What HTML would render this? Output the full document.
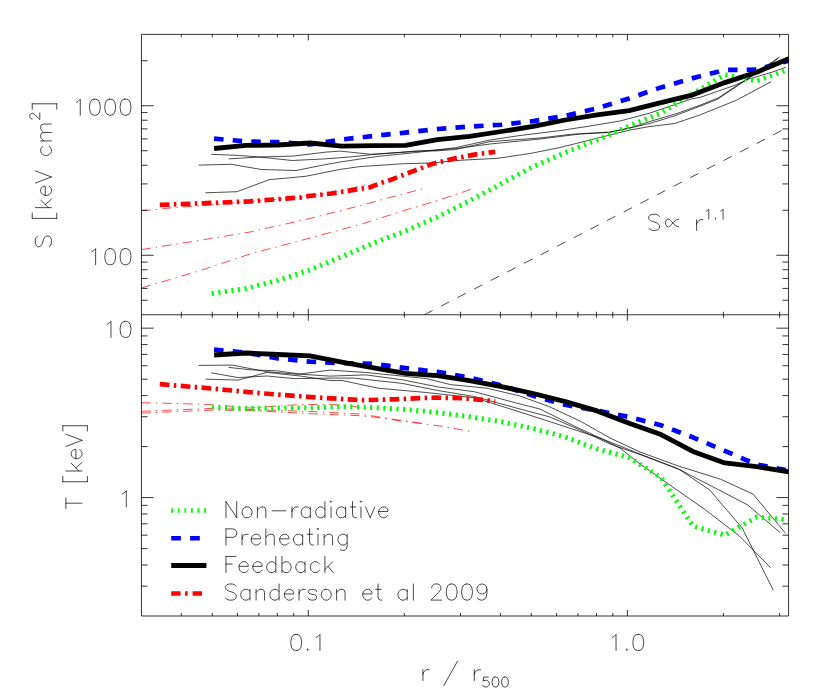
<!DOCTYPE html>
<html><head><meta charset="utf-8"><title>Entropy and temperature profiles</title>
<style>
html,body{margin:0;padding:0;background:#fff;}
body{width:830px;height:700px;overflow:hidden;font-family:"Liberation Sans",sans-serif;}
svg{display:block}
</style></head><body>
<svg width="830" height="700" viewBox="0 0 830 700">
<rect width="830" height="700" fill="#fff"/>
<defs>
<clipPath id="c1"><rect x="141.45" y="34.4" width="647.8999999999999" height="280.35"/></clipPath>
<clipPath id="c2"><rect x="141.45" y="314.75" width="647.8999999999999" height="301.25"/></clipPath>
</defs>
<g clip-path="url(#c1)">
<polyline points="211.2,154.3 238.2,155.4 259.4,157.0 292.2,160.5 325.0,158.9 350.0,157.0 370.8,154.7 417.1,150.9 436.4,150.9 455.7,149.5 490.0,141.6 540.0,138.0 570.0,134.4 610.0,132.0 630.0,128.0 650.0,121.5 678.6,112.9 700.0,105.2 718.1,98.0 748.2,78.1 772.3,61.9 779.5,57.0" fill="none" stroke="#000" stroke-width="0.7" />
<polyline points="228.6,158.9 259.4,157.0 294.0,156.0 325.0,152.2 340.0,151.1 370.8,154.3 417.1,151.4 455.7,148.6 490.0,144.0 540.0,139.0 580.0,134.0 610.0,132.4 650.0,123.4 674.7,115.8 700.0,106.2 717.1,99.4 749.9,77.6 771.0,63.5 778.0,58.5" fill="none" stroke="#000" stroke-width="0.7" />
<polyline points="198.7,165.1 231.4,164.3 261.3,169.5 296.0,170.5 325.0,164.7 340.0,162.0 378.6,156.3 417.1,152.4 455.7,147.6 490.0,140.0 520.0,135.5 560.0,130.6 590.0,126.0 620.0,121.0 650.0,113.0 692.0,98.8 700.0,97.4 736.1,84.8 748.2,79.3 772.3,72.1 785.8,67.3" fill="none" stroke="#000" stroke-width="0.7" />
<polyline points="205.4,192.8 237.2,191.7 269.0,179.7 305.7,176.3 340.0,169.4 360.0,166.6 403.4,163.7 432.3,163.0 455.7,160.5 497.8,158.3 530.0,153.5 560.0,147.5 570.0,145.0 610.0,135.0 630.0,130.0 650.0,126.5 674.7,123.5 700.0,114.9 736.1,100.4 771.1,81.7" fill="none" stroke="#000" stroke-width="0.7" />
<polyline points="141.4,210.7 155.8,209.6 170.8,207.8 200.0,205.7 250.0,201.6 300.0,197.2 331.3,192.6 355.4,187.3 366.0,185.4" fill="none" stroke="#f00" stroke-width="0.7" stroke-dasharray="9.4 5 1.5 5" />
<polyline points="141.4,249.6 197.8,240.7 250.0,232.0 307.8,219.0 360.0,205.7 388.9,197.7 422.2,189.0" fill="none" stroke="#f00" stroke-width="0.7" stroke-dasharray="9.4 5 1.5 5" />
<polyline points="141.4,287.9 197.8,271.3 250.0,254.0 307.8,238.6 362.9,223.7 403.4,210.7 439.5,199.9 471.3,189.3" fill="none" stroke="#f00" stroke-width="0.7" stroke-dasharray="9.4 5 1.5 5" />
<polyline points="424.2,314.8 782.2,130.3" fill="none" stroke="#000" stroke-width="0.7" stroke-dasharray="9.4 9.3" />
<polyline points="211.8,293.5 246.0,288.6 277.9,280.4 309.9,270.0 341.8,256.6 373.7,243.0 405.6,231.0 437.5,217.0 469.5,200.9 501.4,183.6 533.3,166.6 565.2,152.5 597.1,140.0 629.1,126.1 661.0,113.0 692.9,93.7 724.8,74.6 756.7,81.0 788.7,69.5" fill="none" stroke="#0f0" stroke-width="5.0" stroke-dasharray="2.1 4.5" />
<polyline points="214.1,138.7 246.0,141.4 277.9,142.2 309.9,144.5 341.8,139.5 373.7,136.0 405.6,132.6 437.5,129.0 469.5,126.6 501.4,124.7 533.3,121.1 565.2,115.9 597.1,108.3 629.1,98.4 661.0,87.4 692.9,78.1 724.8,70.0 756.7,69.6 788.7,60.8" fill="none" stroke="#00f" stroke-width="4.7" stroke-dasharray="9.5 9.16" />
<polyline points="159.8,204.9 212.3,202.9 250.0,201.4 260.5,200.5 300.0,197.6 307.8,196.2 331.3,193.5 355.4,189.6 370.0,187.3 379.5,183.6 393.3,178.9 413.3,171.1 432.3,163.9 454.1,158.6 475.8,154.4 495.2,151.8" fill="none" stroke="#f00" stroke-width="4.7" stroke-dasharray="9.7 4.4 2.45 4.4" />
<polyline points="214.1,148.5 246.0,145.4 277.9,145.0 309.9,143.0 341.8,146.1 373.7,145.7 405.6,145.3 437.5,139.6 469.5,136.4 501.4,131.5 533.3,126.4 565.2,120.0 597.1,114.8 629.1,110.6 661.0,102.6 692.9,94.8 724.8,82.6 756.7,72.2 788.7,58.7" fill="none" stroke="#000" stroke-width="4.8" stroke-linejoin="round"/>
</g>
<g clip-path="url(#c2)">
<polyline points="198.7,365.4 232.4,365.1 267.1,371.8 298.0,374.3 330.0,370.1 366.1,372.5 402.3,376.1 426.4,378.6 450.5,384.6 486.6,388.2 520.0,396.0 550.0,407.0 580.0,421.0 610.0,438.0 640.0,452.0 677.1,465.6 720.5,479.2 753.0,494.1 785.6,533.4" fill="none" stroke="#000" stroke-width="0.7" />
<polyline points="228.6,367.4 251.7,369.9 276.7,370.8 301.8,374.3 330.0,376.1 366.1,374.9 402.3,379.8 438.4,387.0 474.6,391.8 520.0,404.0 540.0,409.0 570.0,424.0 600.0,438.0 640.0,454.0 677.1,468.3 747.6,504.9 780.2,532.6" fill="none" stroke="#000" stroke-width="0.7" />
<polyline points="211.2,372.8 238.2,377.6 267.1,376.0 294.1,378.6 330.0,378.1 354.0,378.1 402.3,383.4 438.4,390.6 474.6,396.6 520.0,409.0 550.0,417.0 580.0,430.0 610.0,444.0 644.0,456.0 679.8,469.7 709.7,490.0 742.2,528.0 773.4,590.4" fill="none" stroke="#000" stroke-width="0.7" />
<polyline points="205.4,379.1 238.2,380.1 267.1,372.4 300.0,376.0 330.0,380.5 342.0,380.5 378.2,388.2 426.4,392.5 474.6,397.8 520.0,412.0 560.0,425.0 600.0,438.0 620.0,448.0 640.0,464.0 660.0,478.0 704.2,509.0 739.5,536.1 770.7,567.9" fill="none" stroke="#000" stroke-width="0.7" />
<polyline points="141.4,402.7 175.0,403.5 210.0,404.5 250.0,408.0 285.0,405.5 301.4,404.5 330.0,404.3 350.0,405.6 366.0,408.6" fill="none" stroke="#f00" stroke-width="0.7" stroke-dasharray="9.4 5 1.5 5" />
<polyline points="141.4,411.3 210.0,408.5 250.0,409.5 315.0,411.7 358.0,413.9 376.9,416.6 398.8,420.1 421.6,423.3" fill="none" stroke="#f00" stroke-width="0.7" stroke-dasharray="9.4 5 1.5 5" />
<polyline points="141.4,413.1 210.0,410.2 250.0,410.5 315.0,413.9 358.0,415.6 376.9,417.4 398.8,420.6 419.0,423.2 441.0,426.2 470.5,431.4" fill="none" stroke="#f00" stroke-width="0.7" stroke-dasharray="9.4 5 1.5 5" />
<polyline points="211.8,407.1 246.0,408.6 277.9,408.0 309.9,407.8 341.8,406.6 373.7,407.6 405.6,409.5 437.5,412.5 469.5,416.8 501.4,421.8 533.3,428.6 565.2,437.0 597.1,449.0 629.1,457.5 661.0,477.5 692.9,526.0 724.8,535.2 756.7,517.1 788.7,519.8" fill="none" stroke="#0f0" stroke-width="5.0" stroke-dasharray="2.1 4.5" />
<polyline points="214.1,349.7 246.0,352.7 277.9,358.3 309.9,361.7 341.8,363.2 373.7,363.9 405.6,368.1 437.5,371.9 469.5,377.6 501.4,385.5 533.3,395.8 565.2,404.8 597.1,410.6 629.1,417.0 661.0,425.2 692.9,437.4 724.8,450.9 756.7,464.5 788.7,470.6" fill="none" stroke="#00f" stroke-width="4.7" stroke-dasharray="9.5 9.16" />
<polyline points="159.8,384.2 212.3,388.6 260.5,393.2 307.8,396.9 336.4,398.7 362.5,400.2 393.7,399.3 419.0,398.2 435.9,397.6 461.2,398.2 483.1,399.8 495.2,401.5" fill="none" stroke="#f00" stroke-width="4.7" stroke-dasharray="9.7 4.4 2.45 4.4" />
<polyline points="214.1,355.0 246.0,353.0 277.9,354.5 309.9,355.8 341.8,362.2 373.7,367.9 405.6,373.4 437.5,375.7 469.5,380.6 501.4,386.6 533.3,393.5 565.2,401.6 597.1,410.9 629.1,423.3 661.0,434.6 692.9,451.4 724.8,462.9 756.7,466.7 788.7,471.8" fill="none" stroke="#000" stroke-width="4.8" stroke-linejoin="round"/>
</g>
<path d="M141.45,34.4 H788.55 V616.0 H141.45 Z M141.45,314.75 H788.55 M308.29,34.4 v6.0 M308.29,308.75 v12.0 M308.29,616.0 v-6.0 M627.37,34.4 v6.0 M627.37,308.75 v12.0 M627.37,616.0 v-6.0 M181.32,34.4 v3.0 M181.32,311.75 v6.0 M181.32,616.0 v-3.0 M212.24,34.4 v3.0 M212.24,311.75 v6.0 M212.24,616.0 v-3.0 M237.50,34.4 v3.0 M237.50,311.75 v6.0 M237.50,616.0 v-3.0 M258.86,34.4 v3.0 M258.86,311.75 v6.0 M258.86,616.0 v-3.0 M277.37,34.4 v3.0 M277.37,311.75 v6.0 M277.37,616.0 v-3.0 M293.69,34.4 v3.0 M293.69,311.75 v6.0 M293.69,616.0 v-3.0 M404.34,34.4 v3.0 M404.34,311.75 v6.0 M404.34,616.0 v-3.0 M460.53,34.4 v3.0 M460.53,311.75 v6.0 M460.53,616.0 v-3.0 M500.39,34.4 v3.0 M500.39,311.75 v6.0 M500.39,616.0 v-3.0 M531.32,34.4 v3.0 M531.32,311.75 v6.0 M531.32,616.0 v-3.0 M556.58,34.4 v3.0 M556.58,311.75 v6.0 M556.58,616.0 v-3.0 M577.94,34.4 v3.0 M577.94,311.75 v6.0 M577.94,616.0 v-3.0 M596.45,34.4 v3.0 M596.45,311.75 v6.0 M596.45,616.0 v-3.0 M612.77,34.4 v3.0 M612.77,311.75 v6.0 M612.77,616.0 v-3.0 M723.42,34.4 v3.0 M723.42,311.75 v6.0 M723.42,616.0 v-3.0 M779.61,34.4 v3.0 M779.61,311.75 v6.0 M779.61,616.0 v-3.0 M141.45,255.25 h12.2 M788.55,255.25 h-12.2 M141.45,105.74 h12.2 M788.55,105.74 h-12.2 M141.45,300.26 h6.1 M788.55,300.26 h-6.1 M141.45,288.42 h6.1 M788.55,288.42 h-6.1 M141.45,278.41 h6.1 M788.55,278.41 h-6.1 M141.45,269.74 h6.1 M788.55,269.74 h-6.1 M141.45,262.09 h6.1 M788.55,262.09 h-6.1 M141.45,210.24 h6.1 M788.55,210.24 h-6.1 M141.45,183.92 h6.1 M788.55,183.92 h-6.1 M141.45,165.23 h6.1 M788.55,165.23 h-6.1 M141.45,150.75 h6.1 M788.55,150.75 h-6.1 M141.45,138.91 h6.1 M788.55,138.91 h-6.1 M141.45,128.90 h6.1 M788.55,128.90 h-6.1 M141.45,120.23 h6.1 M788.55,120.23 h-6.1 M141.45,112.58 h6.1 M788.55,112.58 h-6.1 M141.45,60.73 h6.1 M788.55,60.73 h-6.1 M141.45,497.58 h12.2 M788.55,497.58 h-12.2 M141.45,328.16 h12.2 M788.55,328.16 h-12.2 M141.45,586.17 h6.1 M788.55,586.17 h-6.1 M141.45,565.00 h6.1 M788.55,565.00 h-6.1 M141.45,548.58 h6.1 M788.55,548.58 h-6.1 M141.45,535.17 h6.1 M788.55,535.17 h-6.1 M141.45,523.83 h6.1 M788.55,523.83 h-6.1 M141.45,514.00 h6.1 M788.55,514.00 h-6.1 M141.45,505.33 h6.1 M788.55,505.33 h-6.1 M141.45,446.58 h6.1 M788.55,446.58 h-6.1 M141.45,416.75 h6.1 M788.55,416.75 h-6.1 M141.45,395.58 h6.1 M788.55,395.58 h-6.1 M141.45,379.16 h6.1 M788.55,379.16 h-6.1 M141.45,365.75 h6.1 M788.55,365.75 h-6.1 M141.45,354.41 h6.1 M788.55,354.41 h-6.1 M141.45,344.58 h6.1 M788.55,344.58 h-6.1 M141.45,335.92 h6.1 M788.55,335.92 h-6.1" stroke="#000" stroke-width="0.8" fill="none"/>
<g>
<polyline points="171.2,510.5 206.4,510.5" fill="none" stroke="#0f0" stroke-width="4.7" stroke-dasharray="1.8 4.8" />
<polyline points="171.2,538.3 206.4,538.3" fill="none" stroke="#00f" stroke-width="4.5" stroke-dasharray="9.7 9.2" />
<polyline points="171.2,565.6 206.4,565.6" fill="none" stroke="#000" stroke-width="5.0" />
<polyline points="171.2,593.5 206.4,593.5" fill="none" stroke="#f00" stroke-width="4.6" stroke-dasharray="9.4 4.5 2.6 4.9" />
</g>
<g>
<path transform="translate(222.90,517.70) translate(0.00,0)" d="M3.07,-16.11 L3.07,0.00 M3.07,-16.11 L13.81,0.00 M13.81,-16.11 L13.81,0.00 M23.01,-10.74 L21.48,-9.97 L19.94,-8.44 L19.18,-6.14 L19.18,-4.60 L19.94,-2.30 L21.48,-0.77 L23.01,0.00 L25.31,0.00 L26.85,-0.77 L28.38,-2.30 L29.15,-4.60 L29.15,-6.14 L28.38,-8.44 L26.85,-9.97 L25.31,-10.74 L23.01,-10.74 M34.52,-10.74 L34.52,0.00 M34.52,-7.67 L36.82,-9.97 L38.35,-10.74 L40.65,-10.74 L42.19,-9.97 L42.95,-7.67 L42.95,0.00 M49.09,-6.90 L62.89,-6.90 M69.03,-10.74 L69.03,0.00 M69.03,-6.14 L69.80,-8.44 L71.33,-9.97 L72.86,-10.74 L75.17,-10.74 M87.44,-10.74 L87.44,0.00 M87.44,-8.44 L85.90,-9.97 L84.37,-10.74 L82.07,-10.74 L80.53,-9.97 L79.00,-8.44 L78.23,-6.14 L78.23,-4.60 L79.00,-2.30 L80.53,-0.77 L82.07,0.00 L84.37,0.00 L85.90,-0.77 L87.44,-2.30 M102.01,-16.11 L102.01,0.00 M102.01,-8.44 L100.48,-9.97 L98.94,-10.74 L96.64,-10.74 L95.11,-9.97 L93.57,-8.44 L92.81,-6.14 L92.81,-4.60 L93.57,-2.30 L95.11,-0.77 L96.64,0.00 L98.94,0.00 L100.48,-0.77 L102.01,-2.30 M107.38,-16.11 L108.15,-15.34 L108.91,-16.11 L108.15,-16.87 L107.38,-16.11 M108.15,-10.74 L108.15,0.00 M122.72,-10.74 L122.72,0.00 M122.72,-8.44 L121.19,-9.97 L119.65,-10.74 L117.35,-10.74 L115.82,-9.97 L114.28,-8.44 L113.52,-6.14 L113.52,-4.60 L114.28,-2.30 L115.82,-0.77 L117.35,0.00 L119.65,0.00 L121.19,-0.77 L122.72,-2.30 M129.62,-16.11 L129.62,-3.07 L130.39,-0.77 L131.92,0.00 L133.46,0.00 M127.32,-10.74 L132.69,-10.74 M137.29,-16.11 L138.06,-15.34 L138.83,-16.11 L138.06,-16.87 L137.29,-16.11 M138.06,-10.74 L138.06,0.00 M142.66,-10.74 L147.26,0.00 M151.87,-10.74 L147.26,0.00 M155.70,-6.14 L164.91,-6.14 L164.91,-7.67 L164.14,-9.20 L163.37,-9.97 L161.84,-10.74 L159.54,-10.74 L158.00,-9.97 L156.47,-8.44 L155.70,-6.14 L155.70,-4.60 L156.47,-2.30 L158.00,-0.77 L159.54,0.00 L161.84,0.00 L163.37,-0.77 L164.91,-2.30" fill="none" stroke="#000" stroke-width="0.72" stroke-linecap="round" stroke-linejoin="round"/>
<path transform="translate(222.90,545.00) translate(0.00,0)" d="M3.07,-16.11 L3.07,0.00 M3.07,-16.11 L9.97,-16.11 L12.27,-15.34 L13.04,-14.57 L13.81,-13.04 L13.81,-10.74 L13.04,-9.20 L12.27,-8.44 L9.97,-7.67 L3.07,-7.67 M19.17,-10.74 L19.17,0.00 M19.17,-6.14 L19.94,-8.44 L21.48,-9.97 L23.01,-10.74 L25.31,-10.74 M28.38,-6.14 L37.58,-6.14 L37.58,-7.67 L36.82,-9.20 L36.05,-9.97 L34.52,-10.74 L32.21,-10.74 L30.68,-9.97 L29.15,-8.44 L28.38,-6.14 L28.38,-4.60 L29.15,-2.30 L30.68,-0.77 L32.21,0.00 L34.52,0.00 L36.05,-0.77 L37.58,-2.30 M42.95,-16.11 L42.95,0.00 M42.95,-7.67 L45.25,-9.97 L46.79,-10.74 L49.09,-10.74 L50.62,-9.97 L51.39,-7.67 L51.39,0.00 M56.76,-6.14 L65.96,-6.14 L65.96,-7.67 L65.19,-9.20 L64.43,-9.97 L62.89,-10.74 L60.59,-10.74 L59.06,-9.97 L57.52,-8.44 L56.76,-6.14 L56.76,-4.60 L57.52,-2.30 L59.06,-0.77 L60.59,0.00 L62.89,0.00 L64.43,-0.77 L65.96,-2.30 M79.77,-10.74 L79.77,0.00 M79.77,-8.44 L78.23,-9.97 L76.70,-10.74 L74.40,-10.74 L72.87,-9.97 L71.33,-8.44 L70.56,-6.14 L70.56,-4.60 L71.33,-2.30 L72.87,-0.77 L74.40,0.00 L76.70,0.00 L78.23,-0.77 L79.77,-2.30 M86.67,-16.11 L86.67,-3.07 L87.44,-0.77 L88.97,0.00 L90.51,0.00 M84.37,-10.74 L89.74,-10.74 M94.34,-16.11 L95.11,-15.34 L95.88,-16.11 L95.11,-16.87 L94.34,-16.11 M95.11,-10.74 L95.11,0.00 M101.24,-10.74 L101.24,0.00 M101.24,-7.67 L103.55,-9.97 L105.08,-10.74 L107.38,-10.74 L108.91,-9.97 L109.68,-7.67 L109.68,0.00 M124.25,-10.74 L124.25,1.53 L123.49,3.83 L122.72,4.60 L121.19,5.37 L118.89,5.37 L117.35,4.60 M124.25,-8.44 L122.72,-9.97 L121.19,-10.74 L118.89,-10.74 L117.35,-9.97 L115.82,-8.44 L115.05,-6.14 L115.05,-4.60 L115.82,-2.30 L117.35,-0.77 L118.89,0.00 L121.19,0.00 L122.72,-0.77 L124.25,-2.30" fill="none" stroke="#000" stroke-width="0.72" stroke-linecap="round" stroke-linejoin="round"/>
<path transform="translate(222.90,572.50) translate(0.00,0)" d="M3.07,-16.11 L3.07,0.00 M3.07,-16.11 L13.04,-16.11 M3.07,-8.44 L9.20,-8.44 M16.11,-6.14 L25.31,-6.14 L25.31,-7.67 L24.54,-9.20 L23.78,-9.97 L22.24,-10.74 L19.94,-10.74 L18.41,-9.97 L16.87,-8.44 L16.11,-6.14 L16.11,-4.60 L16.87,-2.30 L18.41,-0.77 L19.94,0.00 L22.24,0.00 L23.78,-0.77 L25.31,-2.30 M29.91,-6.14 L39.12,-6.14 L39.12,-7.67 L38.35,-9.20 L37.58,-9.97 L36.05,-10.74 L33.75,-10.74 L32.21,-9.97 L30.68,-8.44 L29.91,-6.14 L29.91,-4.60 L30.68,-2.30 L32.21,-0.77 L33.75,0.00 L36.05,0.00 L37.58,-0.77 L39.12,-2.30 M52.92,-16.11 L52.92,0.00 M52.92,-8.44 L51.39,-9.97 L49.86,-10.74 L47.55,-10.74 L46.02,-9.97 L44.49,-8.44 L43.72,-6.14 L43.72,-4.60 L44.49,-2.30 L46.02,-0.77 L47.55,0.00 L49.86,0.00 L51.39,-0.77 L52.92,-2.30 M59.06,-16.11 L59.06,0.00 M59.06,-8.44 L60.59,-9.97 L62.13,-10.74 L64.43,-10.74 L65.96,-9.97 L67.50,-8.44 L68.26,-6.14 L68.26,-4.60 L67.50,-2.30 L65.96,-0.77 L64.43,0.00 L62.13,0.00 L60.59,-0.77 L59.06,-2.30 M82.07,-10.74 L82.07,0.00 M82.07,-8.44 L80.54,-9.97 L79.00,-10.74 L76.70,-10.74 L75.17,-9.97 L73.63,-8.44 L72.87,-6.14 L72.87,-4.60 L73.63,-2.30 L75.17,-0.77 L76.70,0.00 L79.00,0.00 L80.54,-0.77 L82.07,-2.30 M96.64,-8.44 L95.11,-9.97 L93.57,-10.74 L91.27,-10.74 L89.74,-9.97 L88.21,-8.44 L87.44,-6.14 L87.44,-4.60 L88.21,-2.30 L89.74,-0.77 L91.27,0.00 L93.57,0.00 L95.11,-0.77 L96.64,-2.30 M102.01,-16.11 L102.01,0.00 M109.68,-10.74 L102.01,-3.07 M105.08,-6.14 L110.45,0.00" fill="none" stroke="#000" stroke-width="0.72" stroke-linecap="round" stroke-linejoin="round"/>
<path transform="translate(223.10,600.10) translate(0.00,0)" d="M13.04,-13.81 L11.50,-15.34 L9.20,-16.11 L6.14,-16.11 L3.83,-15.34 L2.30,-13.81 L2.30,-12.27 L3.07,-10.74 L3.83,-9.97 L5.37,-9.20 L9.97,-7.67 L11.50,-6.90 L12.27,-6.14 L13.04,-4.60 L13.04,-2.30 L11.50,-0.77 L9.20,0.00 L6.14,0.00 L3.83,-0.77 L2.30,-2.30 M26.85,-10.74 L26.85,0.00 M26.85,-8.44 L25.31,-9.97 L23.78,-10.74 L21.48,-10.74 L19.94,-9.97 L18.41,-8.44 L17.64,-6.14 L17.64,-4.60 L18.41,-2.30 L19.94,-0.77 L21.48,0.00 L23.78,0.00 L25.31,-0.77 L26.85,-2.30 M32.98,-10.74 L32.98,0.00 M32.98,-7.67 L35.28,-9.97 L36.82,-10.74 L39.12,-10.74 L40.65,-9.97 L41.42,-7.67 L41.42,0.00 M55.99,-16.11 L55.99,0.00 M55.99,-8.44 L54.46,-9.97 L52.92,-10.74 L50.62,-10.74 L49.09,-9.97 L47.55,-8.44 L46.79,-6.14 L46.79,-4.60 L47.55,-2.30 L49.09,-0.77 L50.62,0.00 L52.92,0.00 L54.46,-0.77 L55.99,-2.30 M61.36,-6.14 L70.56,-6.14 L70.56,-7.67 L69.80,-9.20 L69.03,-9.97 L67.50,-10.74 L65.20,-10.74 L63.66,-9.97 L62.13,-8.44 L61.36,-6.14 L61.36,-4.60 L62.13,-2.30 L63.66,-0.77 L65.20,0.00 L67.50,0.00 L69.03,-0.77 L70.56,-2.30 M75.93,-10.74 L75.93,0.00 M75.93,-6.14 L76.70,-8.44 L78.23,-9.97 L79.77,-10.74 L82.07,-10.74 M93.57,-8.44 L92.81,-9.97 L90.51,-10.74 L88.21,-10.74 L85.90,-9.97 L85.14,-8.44 L85.90,-6.90 L87.44,-6.14 L91.27,-5.37 L92.81,-4.60 L93.57,-3.07 L93.57,-2.30 L92.81,-0.77 L90.51,0.00 L88.21,0.00 L85.90,-0.77 L85.14,-2.30 M102.01,-10.74 L100.48,-9.97 L98.94,-8.44 L98.18,-6.14 L98.18,-4.60 L98.94,-2.30 L100.48,-0.77 L102.01,0.00 L104.31,0.00 L105.85,-0.77 L107.38,-2.30 L108.15,-4.60 L108.15,-6.14 L107.38,-8.44 L105.85,-9.97 L104.31,-10.74 L102.01,-10.74 M113.52,-10.74 L113.52,0.00 M113.52,-7.67 L115.82,-9.97 L117.35,-10.74 L119.65,-10.74 L121.19,-9.97 L121.95,-7.67 L121.95,0.00 M139.59,-6.14 L148.80,-6.14 L148.80,-7.67 L148.03,-9.20 L147.26,-9.97 L145.73,-10.74 L143.43,-10.74 L141.90,-9.97 L140.36,-8.44 L139.59,-6.14 L139.59,-4.60 L140.36,-2.30 L141.90,-0.77 L143.43,0.00 L145.73,0.00 L147.26,-0.77 L148.80,-2.30 M154.93,-16.11 L154.93,-3.07 L155.70,-0.77 L157.24,0.00 L158.77,0.00 M152.63,-10.74 L158.00,-10.74 M184.08,-10.74 L184.08,0.00 M184.08,-8.44 L182.55,-9.97 L181.01,-10.74 L178.71,-10.74 L177.18,-9.97 L175.64,-8.44 L174.88,-6.14 L174.88,-4.60 L175.64,-2.30 L177.18,-0.77 L178.71,0.00 L181.01,0.00 L182.55,-0.77 L184.08,-2.30 M190.22,-16.11 L190.22,0.00 M208.62,-12.27 L208.62,-13.04 L209.39,-14.57 L210.16,-15.34 L211.69,-16.11 L214.76,-16.11 L216.29,-15.34 L217.06,-14.57 L217.83,-13.04 L217.83,-11.51 L217.06,-9.97 L215.53,-7.67 L207.86,0.00 L218.59,0.00 M227.80,-16.11 L225.50,-15.34 L223.96,-13.04 L223.20,-9.20 L223.20,-6.90 L223.96,-3.07 L225.50,-0.77 L227.80,0.00 L229.33,0.00 L231.63,-0.77 L233.17,-3.07 L233.94,-6.90 L233.94,-9.20 L233.17,-13.04 L231.63,-15.34 L229.33,-16.11 L227.80,-16.11 M243.14,-16.11 L240.84,-15.34 L239.30,-13.04 L238.54,-9.20 L238.54,-6.90 L239.30,-3.07 L240.84,-0.77 L243.14,0.00 L244.67,0.00 L246.97,-0.77 L248.51,-3.07 L249.28,-6.90 L249.28,-9.20 L248.51,-13.04 L246.97,-15.34 L244.67,-16.11 L243.14,-16.11 M263.85,-10.74 L263.08,-8.44 L261.55,-6.90 L259.25,-6.14 L258.48,-6.14 L256.18,-6.90 L254.64,-8.44 L253.88,-10.74 L253.88,-11.51 L254.64,-13.81 L256.18,-15.34 L258.48,-16.11 L259.25,-16.11 L261.55,-15.34 L263.08,-13.81 L263.85,-10.74 L263.85,-6.90 L263.08,-3.07 L261.55,-0.77 L259.25,0.00 L257.71,0.00 L255.41,-0.77 L254.64,-2.30" fill="none" stroke="#000" stroke-width="0.72" stroke-linecap="round" stroke-linejoin="round"/>
<path transform="translate(133.20,115.24) translate(-61.36,0)" d="M4.60,-13.04 L6.14,-13.81 L8.44,-16.11 L8.44,0.00 M22.24,-16.11 L19.94,-15.34 L18.41,-13.04 L17.64,-9.20 L17.64,-6.90 L18.41,-3.07 L19.94,-0.77 L22.24,0.00 L23.78,0.00 L26.08,-0.77 L27.61,-3.07 L28.38,-6.90 L28.38,-9.20 L27.61,-13.04 L26.08,-15.34 L23.78,-16.11 L22.24,-16.11 M37.58,-16.11 L35.28,-15.34 L33.75,-13.04 L32.98,-9.20 L32.98,-6.90 L33.75,-3.07 L35.28,-0.77 L37.58,0.00 L39.12,0.00 L41.42,-0.77 L42.95,-3.07 L43.72,-6.90 L43.72,-9.20 L42.95,-13.04 L41.42,-15.34 L39.12,-16.11 L37.58,-16.11 M52.92,-16.11 L50.62,-15.34 L49.09,-13.04 L48.32,-9.20 L48.32,-6.90 L49.09,-3.07 L50.62,-0.77 L52.92,0.00 L54.46,0.00 L56.76,-0.77 L58.29,-3.07 L59.06,-6.90 L59.06,-9.20 L58.29,-13.04 L56.76,-15.34 L54.46,-16.11 L52.92,-16.11" fill="none" stroke="#000" stroke-width="0.72" stroke-linecap="round" stroke-linejoin="round"/>
<path transform="translate(133.20,264.75) translate(-46.02,0)" d="M4.60,-13.04 L6.14,-13.81 L8.44,-16.11 L8.44,0.00 M22.24,-16.11 L19.94,-15.34 L18.41,-13.04 L17.64,-9.20 L17.64,-6.90 L18.41,-3.07 L19.94,-0.77 L22.24,0.00 L23.78,0.00 L26.08,-0.77 L27.61,-3.07 L28.38,-6.90 L28.38,-9.20 L27.61,-13.04 L26.08,-15.34 L23.78,-16.11 L22.24,-16.11 M37.58,-16.11 L35.28,-15.34 L33.75,-13.04 L32.98,-9.20 L32.98,-6.90 L33.75,-3.07 L35.28,-0.77 L37.58,0.00 L39.12,0.00 L41.42,-0.77 L42.95,-3.07 L43.72,-6.90 L43.72,-9.20 L42.95,-13.04 L41.42,-15.34 L39.12,-16.11 L37.58,-16.11" fill="none" stroke="#000" stroke-width="0.72" stroke-linecap="round" stroke-linejoin="round"/>
<path transform="translate(133.20,337.46) translate(-30.68,0)" d="M4.60,-13.04 L6.14,-13.81 L8.44,-16.11 L8.44,0.00 M22.24,-16.11 L19.94,-15.34 L18.41,-13.04 L17.64,-9.20 L17.64,-6.90 L18.41,-3.07 L19.94,-0.77 L22.24,0.00 L23.78,0.00 L26.08,-0.77 L27.61,-3.07 L28.38,-6.90 L28.38,-9.20 L27.61,-13.04 L26.08,-15.34 L23.78,-16.11 L22.24,-16.11" fill="none" stroke="#000" stroke-width="0.72" stroke-linecap="round" stroke-linejoin="round"/>
<path transform="translate(133.20,506.88) translate(-15.34,0)" d="M4.60,-13.04 L6.14,-13.81 L8.44,-16.11 L8.44,0.00" fill="none" stroke="#000" stroke-width="0.72" stroke-linecap="round" stroke-linejoin="round"/>
<path transform="translate(307.69,650.50) translate(-19.17,0)" d="M6.90,-16.11 L4.60,-15.34 L3.07,-13.04 L2.30,-9.20 L2.30,-6.90 L3.07,-3.07 L4.60,-0.77 L6.90,0.00 L8.44,0.00 L10.74,-0.77 L12.27,-3.07 L13.04,-6.90 L13.04,-9.20 L12.27,-13.04 L10.74,-15.34 L8.44,-16.11 L6.90,-16.11 M19.18,-1.53 L18.41,-0.77 L19.18,0.00 L19.94,-0.77 L19.18,-1.53 M27.61,-13.04 L29.15,-13.81 L31.45,-16.11 L31.45,0.00" fill="none" stroke="#000" stroke-width="0.72" stroke-linecap="round" stroke-linejoin="round"/>
<path transform="translate(626.77,650.50) translate(-19.17,0)" d="M4.60,-13.04 L6.14,-13.81 L8.44,-16.11 L8.44,0.00 M19.18,-1.53 L18.41,-0.77 L19.18,0.00 L19.94,-0.77 L19.18,-1.53 M29.91,-16.11 L27.61,-15.34 L26.08,-13.04 L25.31,-9.20 L25.31,-6.90 L26.08,-3.07 L27.61,-0.77 L29.91,0.00 L31.45,0.00 L33.75,-0.77 L35.28,-3.07 L36.05,-6.90 L36.05,-9.20 L35.28,-13.04 L33.75,-15.34 L31.45,-16.11 L29.91,-16.11" fill="none" stroke="#000" stroke-width="0.72" stroke-linecap="round" stroke-linejoin="round"/>
<path transform="translate(419.85,680.5)" d="M3.07,-10.74 L3.07,0.00 M3.07,-6.14 L3.83,-8.44 L5.37,-9.97 L6.90,-10.74 L9.20,-10.74 M37.58,-19.18 L23.78,5.37 M54.46,-10.74 L54.46,0.00 M54.46,-6.14 L55.22,-8.44 L56.76,-9.97 L58.29,-10.74 L60.59,-10.74 M68.49,-3.49 L63.74,-3.49 L63.26,0.79 L63.74,0.32 L65.16,-0.16 L66.59,-0.16 L68.02,0.32 L68.97,1.27 L69.44,2.70 L69.44,3.65 L68.97,5.07 L68.02,6.02 L66.59,6.50 L65.16,6.50 L63.74,6.02 L63.26,5.55 L62.79,4.60 M75.15,-3.49 L73.72,-3.01 L72.77,-1.58 L72.30,0.79 L72.30,2.22 L72.77,4.60 L73.72,6.02 L75.15,6.50 L76.10,6.50 L77.53,6.02 L78.48,4.60 L78.95,2.22 L78.95,0.79 L78.48,-1.58 L77.53,-3.01 L76.10,-3.49 L75.15,-3.49 M84.66,-3.49 L83.23,-3.01 L82.28,-1.58 L81.81,0.79 L81.81,2.22 L82.28,4.60 L83.23,6.02 L84.66,6.50 L85.61,6.50 L87.04,6.02 L87.99,4.60 L88.47,2.22 L88.47,0.79 L87.99,-1.58 L87.04,-3.01 L85.61,-3.49 L84.66,-3.49" fill="none" stroke="#000" stroke-width="0.72" stroke-linecap="round" stroke-linejoin="round"/>
<path transform="translate(646.4,230.4)" d="M13.04,-13.81 L11.50,-15.34 L9.20,-16.11 L6.14,-16.11 L3.83,-15.34 L2.30,-13.81 L2.30,-12.27 L3.07,-10.74 L3.83,-9.97 L5.37,-9.20 L9.97,-7.67 L11.50,-6.90 L12.27,-6.14 L13.04,-4.60 L13.04,-2.30 L11.50,-0.77 L9.20,0.00 L6.14,0.00 L3.83,-0.77 L2.30,-2.30 M32.21,-11.35 C30.03,-11.35 28.21,-9.43 26.38,-7.44 C24.56,-5.45 23.47,-3.53 21.87,-3.53 C20.19,-3.53 19.10,-5.14 19.10,-7.44 C19.10,-9.74 20.19,-11.35 21.87,-11.35 C23.47,-11.35 24.56,-9.43 26.38,-7.44 C28.21,-5.45 30.03,-3.53 32.21,-3.53 M50.24,-10.74 L50.24,0.00 M50.24,-6.14 L51.01,-8.44 L52.54,-9.97 L54.07,-10.74 L56.37,-10.74 M59.99,-19.28 L60.95,-19.76 L62.37,-21.19 L62.37,-11.20 M69.03,-12.15 L68.55,-11.68 L69.03,-11.20 L69.51,-11.68 L69.03,-12.15 M74.26,-19.28 L75.21,-19.76 L76.64,-21.19 L76.64,-11.20" fill="none" stroke="#000" stroke-width="0.72" stroke-linecap="round" stroke-linejoin="round"/>
<path transform="translate(51.4,249.07) rotate(-90)" d="M13.04,-13.81 L11.50,-15.34 L9.20,-16.11 L6.14,-16.11 L3.83,-15.34 L2.30,-13.81 L2.30,-12.27 L3.07,-10.74 L3.83,-9.97 L5.37,-9.20 L9.97,-7.67 L11.50,-6.90 L12.27,-6.14 L13.04,-4.60 L13.04,-2.30 L11.50,-0.77 L9.20,0.00 L6.14,0.00 L3.83,-0.77 L2.30,-2.30 M30.68,-19.18 L30.68,5.37 M30.68,-19.18 L36.05,-19.18 M30.68,5.37 L36.05,5.37 M41.42,-16.11 L41.42,0.00 M49.09,-10.74 L41.42,-3.07 M44.49,-6.14 L49.86,0.00 M53.69,-6.14 L62.89,-6.14 L62.89,-7.67 L62.13,-9.20 L61.36,-9.97 L59.83,-10.74 L57.52,-10.74 L55.99,-9.97 L54.46,-8.44 L53.69,-6.14 L53.69,-4.60 L54.46,-2.30 L55.99,-0.77 L57.52,0.00 L59.83,0.00 L61.36,-0.77 L62.89,-2.30 M65.96,-16.11 L72.10,0.00 M78.23,-16.11 L72.10,0.00 M102.78,-8.44 L101.24,-9.97 L99.71,-10.74 L97.41,-10.74 L95.88,-9.97 L94.34,-8.44 L93.57,-6.14 L93.57,-4.60 L94.34,-2.30 L95.88,-0.77 L97.41,0.00 L99.71,0.00 L101.24,-0.77 L102.78,-2.30 M108.15,-10.74 L108.15,0.00 M108.15,-7.67 L110.45,-9.97 L111.98,-10.74 L114.28,-10.74 L115.82,-9.97 L116.58,-7.67 L116.58,0.00 M116.58,-7.67 L118.89,-9.97 L120.42,-10.74 L122.72,-10.74 L124.25,-9.97 L125.02,-7.67 L125.02,0.00 M129.99,-19.21 L129.99,-19.68 L130.47,-20.64 L130.94,-21.11 L131.89,-21.59 L133.80,-21.59 L134.75,-21.11 L135.22,-20.64 L135.70,-19.68 L135.70,-18.73 L135.22,-17.78 L134.27,-16.36 L129.52,-11.60 L136.17,-11.60 M145.27,-19.18 L145.27,5.37 M139.90,-19.18 L145.27,-19.18 M139.90,5.37 L145.27,5.37" fill="none" stroke="#000" stroke-width="0.72" stroke-linecap="round" stroke-linejoin="round"/>
<path transform="translate(82.0,509.34) rotate(-90)" d="M6.14,-16.11 L6.14,0.00 M0.77,-16.11 L11.50,-16.11 M27.61,-19.18 L27.61,5.37 M27.61,-19.18 L32.98,-19.18 M27.61,5.37 L32.98,5.37 M38.35,-16.11 L38.35,0.00 M46.02,-10.74 L38.35,-3.07 M41.42,-6.14 L46.79,0.00 M50.62,-6.14 L59.83,-6.14 L59.83,-7.67 L59.06,-9.20 L58.29,-9.97 L56.76,-10.74 L54.46,-10.74 L52.92,-9.97 L51.39,-8.44 L50.62,-6.14 L50.62,-4.60 L51.39,-2.30 L52.92,-0.77 L54.46,0.00 L56.76,0.00 L58.29,-0.77 L59.83,-2.30 M62.89,-16.11 L69.03,0.00 M75.17,-16.11 L69.03,0.00 M83.60,-19.18 L83.60,5.37 M78.23,-19.18 L83.60,-19.18 M78.23,5.37 L83.60,5.37" fill="none" stroke="#000" stroke-width="0.72" stroke-linecap="round" stroke-linejoin="round"/>
</g>
</svg>
</body></html>
